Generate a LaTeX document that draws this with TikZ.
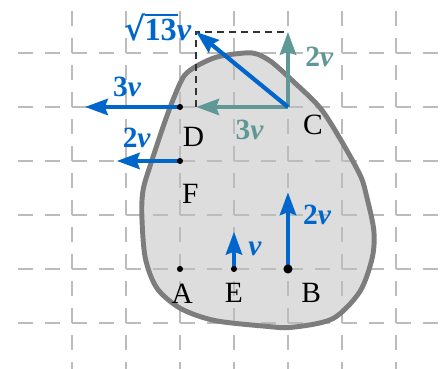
\documentclass[tikz,border=0pt]{standalone}
\usepackage{fontspec}
\setmainfont{Liberation Serif}
\newfontfamily\radfont{DejaVu Serif}
\usetikzlibrary{arrows.meta}
\definecolor{vblue}{RGB}{0,102,204}
\definecolor{vteal}{RGB}{95,152,150}
\definecolor{gridgray}{RGB}{188,188,188}
\definecolor{bodyfill}{RGB}{221,221,221}
\definecolor{bodyline}{RGB}{125,125,125}
\newcommand\myrootlabel{{\radfont\char"221A}\kern-0.03em\setbox0\hbox{\bfseries 13}\rlap{\rule[\dimexpr\ht0+1.6pt\relax]{\dimexpr\wd0+0.5pt\relax}{0.8pt}}\box0\textit{v}}
\begin{document}
\begin{tikzpicture}[x=1cm,y=1cm,
  gridline/.style={gridgray, line width=0.9pt, dash pattern=on 0.2778cm off 0.2222cm},
  vel/.style={line width=2.2pt, -{Stealth[length=12pt,width=8.5pt,inset=1.5pt]}},
  ptlabel/.style={font=\fontsize{15.5}{18}\selectfont, text=black, inner sep=0pt},
  vlabel/.style={font=\fontsize{15.5}{18}\selectfont\bfseries, inner sep=0pt},
  smalldot/.style={circle, fill=black, inner sep=0pt, minimum size=3.2pt},
  bigdot/.style={circle, fill=black, inner sep=0pt, minimum size=4.8pt},
  guide/.style={black!80, line width=0.8pt, dash pattern=on 3.7pt off 2.6pt}]
\useasboundingbox (-3.333,-1.852) rectangle (4.852,4.981);

% body
\def\bodypath{plot[smooth cycle, tension=0.5] coordinates {
  (1.20,4.0) (0.70,3.93) (0.33,3.77) (0.08,3.58) (-0.11,3.18) (-0.30,2.67)
  (-0.55,1.92) (-0.68,1.48) (-0.707,1.02) (-0.644,0.21) (-0.426,-0.357)
  (0.015,-0.733) (0.64,-0.954) (1.58,-1.06) (2.08,-1.08) (2.83,-0.92)
  (3.33,-0.42) (3.56,0.205) (3.59,0.71) (3.46,1.33) (3.34,1.73)
  (2.96,2.42) (2.59,2.99) (2.08,3.49) (1.70,3.83) (1.43,3.98)}}
\fill[bodyfill] \bodypath;

% grid
\begin{scope}
\clip (-3.333,-1.852) rectangle (4.852,4.981);
\foreach \y in {-1,...,4} \draw[gridline] (-3,\y) -- (5,\y);
\foreach \x in {-2,...,4} \draw[gridline] (\x,-2) -- (\x,4.8);
\end{scope}

\draw[bodyline, line width=2.6pt] \bodypath;

% points
\coordinate (A) at (0,0);
\coordinate (E) at (1,0);
\coordinate (B) at (2,0);
\coordinate (F) at (0,2);
\coordinate (D) at (0,3);
\coordinate (C) at (2,3);

% arrow ends
\coordinate (Dt) at (-1.76,3);
\coordinate (Ft) at (-1.17,2);
\coordinate (Et) at (1,0.69);
\coordinate (Bt) at (2,1.42);
\coordinate (Cu) at (2,4.39);
\coordinate (Cl) at (0.3,3);
\coordinate (Cd) at (0.3,4.39);

% construction rectangle
\draw[guide] (Cl) -- (Cd) -- (Cu);

% velocities
\draw[vel, vteal] (C) -- (Cu);
\draw[vel, vteal] (C) -- (Cl);
\draw[vel, vblue] (C) -- (Cd);
\draw[vel, vblue] (D) -- (Dt);
\draw[vel, vblue] (F) -- (Ft);
\draw[vel, vblue] (E) -- (Et);
\draw[vel, vblue] (B) -- (Bt);

% dots
\node[smalldot] (dA) at (A) {};
\node[smalldot] (dE) at (E) {};
\node[bigdot] (dB) at (B) {};
\node[smalldot] (dF) at (F) {};
\node[smalldot] (dD) at (D) {};

% point labels
\node[ptlabel] (lA) at (0.04,-0.46) {A};
\node[ptlabel] (lE) at (1,-0.44) {E};
\node[ptlabel] (lB) at (2.43,-0.44) {B};
\node[ptlabel] (lF) at (0.19,1.39) {F};
\node[ptlabel] (lD) at (0.25,2.44) {D};
\node[ptlabel] (lC) at (2.46,2.66) {C};

% velocity labels
\node[vlabel, text=vblue] (vD) at (-0.98,3.37) {3\textit{v}};
\node[vlabel, text=vblue] (vF) at (-0.80,2.43) {2\textit{v}};
\node[vlabel, text=vblue] (vB) at (2.54,1.0) {2\textit{v}};
\node[vlabel, text=vblue] (vE) at (1.39,0.37) {\textit{v}};
\node[vlabel, text=vblue, anchor=base, font=\fontsize{17}{20}\selectfont\bfseries] (vC) at (-0.41,4.24) {\myrootlabel};
\node[vlabel, text=vteal] (vCu) at (2.58,3.93) {2\textit{v}};
\node[vlabel, text=vteal] (vCl) at (1.29,2.58) {3\textit{v}};
\end{tikzpicture}
\end{document}
